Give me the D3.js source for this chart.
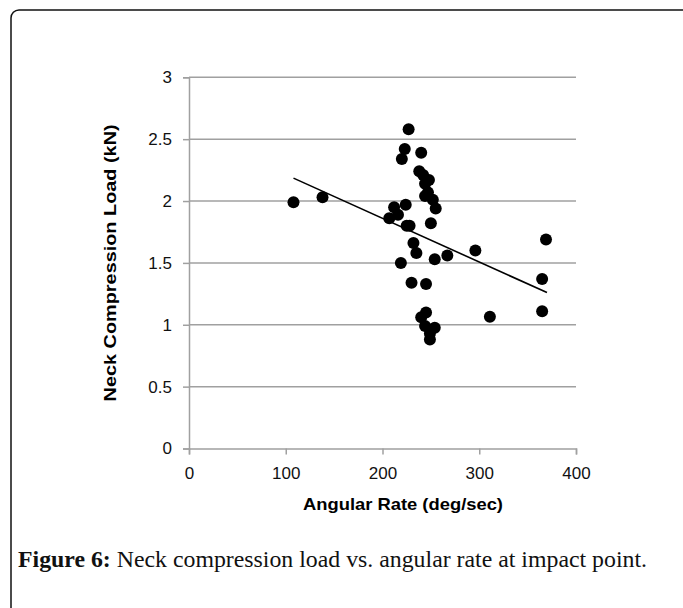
<!DOCTYPE html>
<html>
<head>
<meta charset="utf-8">
<script src="https://cdn.jsdelivr.net/npm/d3@7"></script>
<style>
  body { margin: 0; background: #fff; }
  svg { display: block; }
</style>
</head>
<body>
<svg id="chart" width="683" height="608"></svg>
<script>
// angular rate (deg/sec) and neck compression load (kN)
const rate = [108, 138, 227, 223, 220, 240, 238, 242, 248, 244, 247, 244, 252, 255, 224, 212, 216, 207,
  225, 228, 250, 232, 235, 296, 369, 267, 219, 254, 230, 245, 365, 365, 311, 245, 240, 244, 254, 249, 249];
const load = [1.99, 2.03, 2.58, 2.42, 2.34, 2.39, 2.24, 2.21, 2.17, 2.14, 2.07, 2.04, 2.01, 1.94, 1.97, 1.95, 1.89, 1.86,
  1.80, 1.80, 1.82, 1.66, 1.58, 1.60, 1.69, 1.56, 1.50, 1.53, 1.34, 1.33, 1.37, 1.11, 1.065, 1.10, 1.06, 0.99, 0.975, 0.93, 0.88];
const trendX = [108, 370];
const trendY = [2.185, 1.26];
const xTicks = [0, 100, 200, 300, 400];
const yTicks = [0, 0.5, 1, 1.5, 2, 2.5, 3];

const svg = d3.select('#chart');
const plotLeft = 189, plotRight = 576, plotTop = 77.3, plotBottom = 448.5;

const x = d3.scaleLinear().domain([0, 400]).range([plotLeft, plotRight]);
const y = d3.scaleLinear().domain([0, 3]).range([plotBottom, plotTop]);

// figure frame
svg.append('rect')
  .attr('x', 11).attr('y', 10)
  .attr('width', 700).attr('height', 640)
  .attr('rx', 8)
  .attr('fill', 'none')
  .attr('stroke', '#111')
  .attr('stroke-width', 1.5);

// gridlines
svg.append('g')
  .selectAll('line')
  .data(yTicks.filter(d => d > 0))
  .join('line')
  .attr('x1', x(0)).attr('x2', x(400))
  .attr('y1', d => y(d)).attr('y2', d => y(d))
  .attr('stroke', '#a0a0a0')
  .attr('stroke-width', 1.5);

const yAxis = svg.append('g')
  .attr('transform', `translate(${plotLeft},0)`)
  .call(d3.axisLeft(y).tickValues(yTicks).tickSize(6).tickPadding(11).tickFormat(d => d));

const xAxis = svg.append('g')
  .attr('transform', `translate(0,${plotBottom})`)
  .call(d3.axisBottom(x).tickValues(xTicks).tickSize(6).tickPadding(12).tickFormat(d => d));

[yAxis, xAxis].forEach(g => {
  g.select('.domain').attr('stroke', '#a0a0a0').attr('stroke-width', 1.5);
  g.selectAll('.tick line').attr('stroke', '#a0a0a0').attr('stroke-width', 1.5);
  g.selectAll('.tick text')
    .attr('fill', '#111')
    .style('font-family', 'Liberation Sans, Arial, sans-serif')
    .style('font-size', '17px');
});

// trend line
svg.append('line')
  .attr('x1', x(trendX[0])).attr('y1', y(trendY[0]))
  .attr('x2', x(trendX[1])).attr('y2', y(trendY[1]))
  .attr('stroke', '#000')
  .attr('stroke-width', 1.6);

// points
svg.append('g')
  .selectAll('circle')
  .data(rate.map((r, i) => [r, load[i]]))
  .join('circle')
  .attr('cx', d => x(d[0]))
  .attr('cy', d => y(d[1]))
  .attr('r', 6)
  .attr('fill', '#000');

// axis titles
svg.append('text')
  .attr('x', 403).attr('y', 510)
  .attr('text-anchor', 'middle')
  .style('font-family', 'Liberation Sans, Arial, sans-serif')
  .style('font-weight', 'bold')
  .style('font-size', '16.5px')
  .attr('textLength', 200)
  .attr('lengthAdjust', 'spacingAndGlyphs')
  .text('Angular Rate (deg/sec)');

svg.append('text')
  .attr('transform', `translate(116,${(plotTop + plotBottom) / 2}) rotate(-90)`)
  .attr('text-anchor', 'middle')
  .style('font-family', 'Liberation Sans, Arial, sans-serif')
  .style('font-weight', 'bold')
  .style('font-size', '16.5px')
  .attr('textLength', 277)
  .attr('lengthAdjust', 'spacingAndGlyphs')
  .text('Neck Compression Load (kN)');

// caption
const cap = svg.append('text')
  .attr('x', 18).attr('y', 567)
  .style('font-family', 'Liberation Serif, DejaVu Serif, serif')
  .style('font-size', '23px')
  .attr('fill', '#111')
  .attr('textLength', 629)
  .attr('lengthAdjust', 'spacingAndGlyphs');
cap.append('tspan').style('font-weight', 'bold').text('Figure 6:');
cap.append('tspan').text(' Neck compression load vs. angular rate at impact point.');
</script>
</body>
</html>
